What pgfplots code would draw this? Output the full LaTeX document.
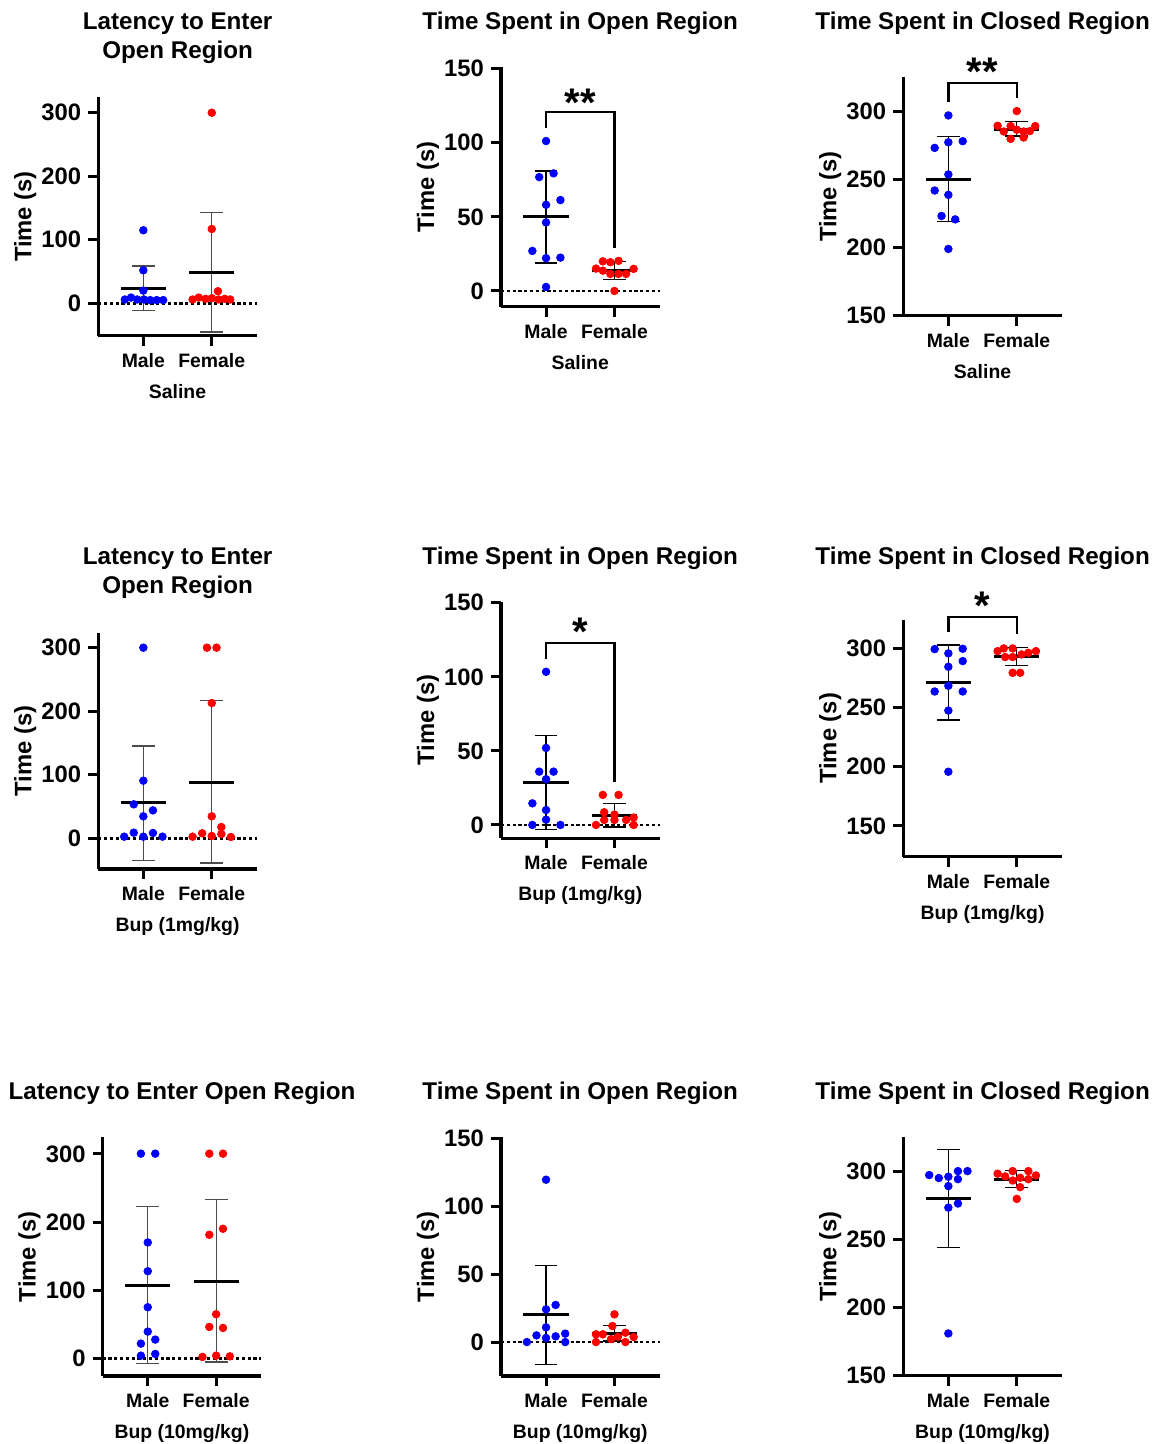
\documentclass[border=0pt]{standalone}
\usepackage{fontspec}
\setmainfont{Liberation Sans}
\usepackage{pgfplots}
\pgfplotsset{compat=1.18}
\newcommand\titf{\fontsize{12.1}{14}\selectfont\bfseries}
\newcommand\tickf{\fontsize{11.9}{14}\selectfont\bfseries}
\newcommand\lblf{\fontsize{9.7}{11}\selectfont\bfseries}
\pgfplotsset{
 prism/.style={
  scale only axis, width=79.35pt,
  xmin=-0.66, xmax=1.66,
  axis x line*=bottom, axis y line*=left,
  axis line style={line width=1.6pt, black},
  every tick/.style={black, line width=1.5pt},
  major tick length=5pt,
  tick align=outside,
  xtick={0,1}, xticklabels={Male,Female},
  x tick label style={font=\lblf, anchor=base, yshift=-10.8pt},
  y tick label style={font=\tickf},
  /pgf/number format/assume math mode=true,
  ylabel={Time (s)},
  ylabel style={at={(axis description cs:-0.46,0.5)}, anchor=center, font=\tickf},
  xlabel style={at={(axis description cs:0.5,0)}, anchor=base, yshift=-31.3pt, font=\lblf},
  clip=false, anchor=south west,
 },
 mblue/.style={only marks, mark=*, mark size=1.9pt, mark options={draw=blue, fill=blue}},
 mred/.style={only marks, mark=*, mark size=1.9pt, mark options={draw=red, fill=red}},
}
\newcommand\zeroline{\addplot[black, line width=1.2pt, dash pattern=on 1.6pt off 1.3pt] coordinates {(-0.66,0)(1.66,0)};}
\newcommand\statM[4]{%
 \addplot[#4, line width=0.65pt] coordinates {(0,#2)(0,#3)};
 \addplot[#4, line width=0.65pt] coordinates {(-0.166,#2)(0.166,#2)};
 \addplot[#4, line width=0.65pt] coordinates {(-0.166,#3)(0.166,#3)};
 \addplot[black, line width=1.5pt] coordinates {(-0.33,#1)(0.33,#1)};}
\newcommand\statF[4]{%
 \addplot[#4, line width=0.65pt] coordinates {(1,#2)(1,#3)};
 \addplot[#4, line width=0.65pt] coordinates {(0.834,#2)(1.166,#2)};
 \addplot[#4, line width=0.65pt] coordinates {(0.834,#3)(1.166,#3)};
 \addplot[black, line width=1.5pt] coordinates {(0.67,#1)(1.33,#1)};}
\newcommand\bracket[3]{\addplot[black, line width=1.2pt] coordinates {(0,#1)(0,#2)(1,#2)(1,#3)};}
\begin{document}
\begin{tikzpicture}
\path[use as bounding box] (0,0) rectangle (579pt,-722pt);

% ---------- Row 1: Saline ----------
\begin{axis}[prism, at={(49.1pt,-167.85pt)}, height=119.2pt, ymin=-51, ymax=324.3, ytick={0,100,200,300}, xlabel={Saline}]
\zeroline
\addplot[mblue] coordinates {(0,115)(0,52)(0,20)(-0.27,6)(-0.18,9)(-0.09,6)(0.01,6)(0.10,5)(0.195,5)(0.29,5)};
\addplot[mred] coordinates {(1,300)(1,117)(1.09,19)(0.72,6)(0.81,9)(0.91,7)(1,8)(1.10,6)(1.19,7)(1.27,6)};
\statM{23.4}{-11.5}{58.9}{black!70}
\statF{48.4}{-45.3}{142.7}{black!70}
\end{axis}

\begin{axis}[prism, at={(250.45pt,-153.35pt)}, height=119.7pt, ymin=-10.6, ymax=150.8, ytick={0,50,100,150}, xlabel={Saline}]
\zeroline
\addplot[mblue] coordinates {(0,101.1)(-0.10,76.8)(0.11,79.3)(0,58.1)(0.21,61.3)(0,46.2)(-0.20,27.0)(0,22.1)(0.21,22.5)(0,2.7)};
\addplot[mred] coordinates {(1,0)(0.83,20.0)(0.94,19.4)(1.06,20.3)(0.73,15.1)(0.83,13.7)(0.94,11.5)(1.06,11.5)(1.17,11.5)(1.28,14.9)};
\statM{50.0}{18.9}{80.9}{black}
\statF{13.7}{7.7}{19.8}{black}
\bracket{109.7}{120.5}{29.2}
\node[anchor=base, font=\fontsize{20}{21}\selectfont\bfseries] at (axis cs:0.5,117.5) {**};
\end{axis}

\begin{axis}[prism, at={(451.6pt,-157.85pt)}, height=119.2pt, ymin=150, ymax=325, ytick={150,200,250,300}, xlabel={Saline}]
\addplot[mblue] coordinates {(0,297)(-0.20,273.2)(0,277.3)(0.21,278.1)(0,253.7)(-0.20,241.9)(0,238.7)(-0.10,223.2)(0.10,220.7)(0,199)};
\addplot[mred] coordinates {(1,300.2)(0.72,289.4)(0.81,285.2)(0.91,289.2)(1,286.5)(1.10,285.2)(1.19,285.5)(1.27,289.2)(0.91,279.8)(1.10,280.8)};
\statM{250.2}{219.0}{281.5}{black}
\statF{286.9}{281.8}{292.4}{black}
\bracket{306.9}{320.9}{309.8}
\node[anchor=base, font=\fontsize{20}{21}\selectfont\bfseries] at (axis cs:0.5,319.1) {**};
\end{axis}

% ---------- Row 2: Bup 1 ----------
\begin{axis}[prism, at={(49.1pt,-434.5pt)}, height=118.15pt, ymin=-48.3, ymax=323.6, ytick={0,100,200,300}, xlabel={Bup (1mg/kg)}]
\zeroline
\addplot[mblue] coordinates {(0,300)(0,90.7)(-0.14,53.5)(0.14,44.0)(0,34.6)(-0.28,2.6)(-0.14,8.9)(0,2.6)(0.14,8.4)(0.28,2.6)};
\addplot[mred] coordinates {(0.93,300)(1.07,300)(1,212.9)(1,34.6)(1.14,17.8)(0.72,2.6)(0.86,7.9)(1,3.7)(1.14,6.8)(1.28,2.1)};
\statM{55.6}{-35.1}{145.3}{black!70}
\statF{88.1}{-38.8}{217.1}{black!70}
\end{axis}

\begin{axis}[prism, at={(250.45pt,-419.15pt)}, height=118.3pt, ymin=-9, ymax=150.7, ytick={0,50,100,150}, xlabel={Bup (1mg/kg)}]
\zeroline
\addplot[mblue] coordinates {(0,103.4)(0,52.0)(-0.10,36.0)(0.11,36.0)(0,30.9)(-0.20,14.6)(0,10.1)(0,3.6)(-0.20,0)(0.21,0)};
\addplot[mred] coordinates {(0.73,0)(0.85,8.6)(1,7.0)(0.85,3.4)(1,3.4)(1.17,3.4)(1.28,5.0)(1.28,0)(0.83,20.3)(1.06,20.3)};
\statM{28.8}{-2.9}{60.4}{black}
\statF{6.5}{-1.4}{14.4}{black}
\bracket{112.1}{122.9}{28.8}
\node[anchor=base, font=\fontsize{20}{21}\selectfont\bfseries] at (axis cs:0.5,121.4) {*};
\end{axis}

\begin{axis}[prism, at={(451.6pt,-428.35pt)}, height=118.35pt, ymin=124, ymax=324, ytick={150,200,250,300}, xlabel={Bup (1mg/kg)}]
\addplot[mblue] coordinates {(-0.20,299.4)(0.21,299.7)(0,295.8)(0.21,289.3)(0,284.5)(0,268.4)(-0.20,263.6)(0.21,263.6)(0,247.5)(0,195.8)};
\addplot[mred] coordinates {(0.72,297.7)(0.81,300)(0.94,300)(1.28,297.7)(1.17,296.3)(1.07,294.9)(0.83,292.7)(0.94,292.7)(0.94,279.4)(1.05,279.4)};
\statM{271.3}{239.5}{303}{black}
\statF{293.2}{285.6}{300.6}{black}
\bracket{314}{326.7}{312.1}
\node[anchor=base, font=\fontsize{20}{21}\selectfont\bfseries] at (axis cs:0.5,324.2) {*};
\end{axis}

% ---------- Row 3: Bup 10 ----------
\begin{axis}[prism, at={(51.3pt,-688pt)}, height=119.35pt, ymin=-26, ymax=324.5, ytick={0,100,200,300}, xlabel={Bup (10mg/kg)}]
\zeroline
\addplot[mblue] coordinates {(-0.10,300.5)(0.11,300.5)(0,170.1)(0,127.9)(0,75)(0,39.2)(-0.10,21.6)(0.11,27.5)(-0.10,3.9)(0.11,6.4)};
\addplot[mred] coordinates {(0.90,300.5)(1.10,300.5)(0.90,181.4)(1.10,190.2)(1,64.7)(0.90,46.1)(1.10,44.6)(0.80,2)(1,3.9)(1.20,2.9)};
\statM{107.4}{-7.8}{222.5}{black!70}
\statF{113.5}{-5.5}{233.3}{black!70}
\end{axis}

\begin{axis}[prism, at={(250.45pt,-688pt)}, height=119.35pt, ymin=-25, ymax=150.7, ytick={0,50,100,150}, xlabel={Bup (10mg/kg)}]
\zeroline
\addplot[mblue] coordinates {(0,119.5)(0.14,27.3)(0,24.1)(0,10.8)(-0.14,4.9)(0.14,4.2)(0.28,6.2)(0,3.0)(-0.28,0)(0.28,0)};
\addplot[mred] coordinates {(1,20.4)(0.97,11.8)(0.73,5.7)(0.83,5.7)(1.16,6.9)(1.05,3.9)(0.95,2.2)(1.28,3.7)(0.73,0)(1.16,0)};
\statM{20.0}{-16.3}{56.2}{black}
\statF{6.4}{0.7}{12.1}{black}
\end{axis}

\begin{axis}[prism, at={(451.6pt,-687.85pt)}, height=119.2pt, ymin=150, ymax=325, ytick={150,200,250,300}, xlabel={Bup (10mg/kg)}]
\addplot[mblue] coordinates {(-0.28,297.3)(-0.14,295.1)(0,296.1)(0.14,294.3)(0.14,300.2)(0.28,300.2)(0,289.2)(0.14,276.4)(0,273.4)(0,181.0)};
\addplot[mred] coordinates {(0.72,298.3)(0.83,296.3)(0.94,300.2)(1.17,300.2)(1.28,297)(1.05,295.3)(0.94,293.3)(1.17,294.3)(1.05,288.4)(1,279.8)};
\statM{280.3}{244.3}{316.3}{black}
\statF{294.3}{288.2}{300.7}{black}
\end{axis}

% ---------- Titles ----------
\begin{scope}[every node/.style={anchor=base, font=\titf}]
\node at (88.8pt,-14.65pt) {Latency to Enter};
\node at (88.8pt,-29.15pt) {Open Region};
\node at (290.1pt,-14.65pt) {Time Spent in Open Region};
\node at (491.3pt,-14.65pt) {Time Spent in Closed Region};
\node at (88.8pt,-282.15pt) {Latency to Enter};
\node at (88.8pt,-296.65pt) {Open Region};
\node at (290.1pt,-282.15pt) {Time Spent in Open Region};
\node at (491.3pt,-282.15pt) {Time Spent in Closed Region};
\node at (91pt,-549.65pt) {Latency to Enter Open Region};
\node at (290.1pt,-549.65pt) {Time Spent in Open Region};
\node at (491.3pt,-549.65pt) {Time Spent in Closed Region};
\end{scope}
\end{tikzpicture}
\end{document}
